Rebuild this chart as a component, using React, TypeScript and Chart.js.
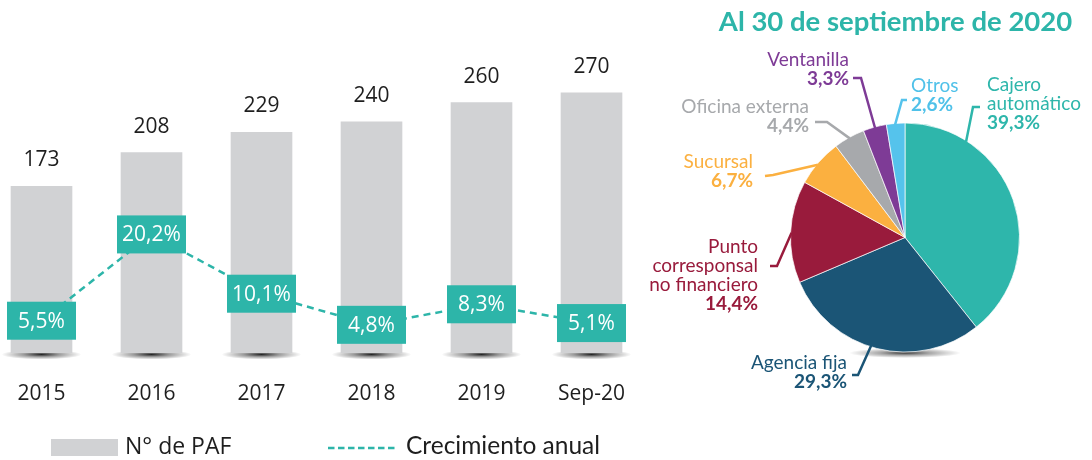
import React, { useEffect, useRef } from "react";
import { Chart, registerables } from "chart.js";

Chart.register(...registerables);

// ---------- DATA ----------
const categories = ["2015", "2016", "2017", "2018", "2019", "Sep-20"];
const pafValues = [173, 208, 229, 240, 260, 270];
const growthValues = [5.5, 20.2, 10.1, 4.8, 8.3, 5.1];

const pieTitle = "Al 30 de septiembre de 2020";
const pieNames = [
  ["Cajero", "automático"],
  ["Agencia fija"],
  ["Punto", "corresponsal", "no financiero"],
  ["Sucursal"],
  ["Oficina externa"],
  ["Ventanilla"],
  ["Otros"],
];
const pieValues = [39.3, 29.3, 14.4, 6.7, 4.4, 3.3, 2.6];

const legendBar = "N° de PAF";
const legendLine = "Crecimiento anual";

// ---------- STYLE ----------
const TEAL = "#2DB5A9";
const BAR_GRAY = "#D1D2D4";
const TEXT = "#1E1E1E";
const pieColors = ["#2EB6AB", "#1B5576", "#991B3C", "#FBB040", "#A7A9AC", "#7E3B96", "#55C3EC"];
const pieTextColors = ["#2EB6AB", "#1B5576", "#991B3C", "#FBB040", "#A7A9AC", "#7E3B96", "#4FC1E9"];

// label layout (pie-canvas coords) : anchor fraction within slice, elbow points, text anchor
const pieLayout = [
  { f: 0.23, pts: [[333, 107], [340, 107]], tx: 347, ty: 85, align: "left" },
  { f: 0.53, pts: [[218, 375], [212, 375]], tx: 207, ty: 363, align: "right" },
  { f: 0.49, pts: [[137, 266], [130, 266]], tx: 118, ty: 247, align: "right" },
  { f: 0.46, pts: [[133, 175], [125, 176]], tx: 113, ty: 162, align: "right" },
  { f: 0.5, pts: [[187, 122], [175, 122]], tx: 169, ty: 107, align: "right" },
  { f: 0.5, pts: [[221, 78], [213, 78]], tx: 209, ty: 60, align: "right" },
  { f: 0.47, pts: [[262, 100], [267, 100]], tx: 271, ty: 86, align: "left" },
];

const LABEL_FONT = "Lato";
const BAR_FONT = "'Open Sans'";

function fmtPct(v: number) {
  return v.toFixed(1).replace(".", ",") + "%";
}

function drawShadow(ctx: CanvasRenderingContext2D, cx: number, cy: number, rx: number, ry: number, alpha: number) {
  ctx.save();
  ctx.translate(cx, cy);
  ctx.scale(1, ry / rx);
  const g = ctx.createRadialGradient(0, 0, 0, 0, 0, rx);
  g.addColorStop(0, `rgba(0,0,0,${alpha})`);
  g.addColorStop(0.45, `rgba(0,0,0,${alpha * 0.45})`);
  g.addColorStop(1, "rgba(0,0,0,0)");
  ctx.fillStyle = g;
  ctx.beginPath();
  ctx.arc(0, 0, rx, 0, Math.PI * 2);
  ctx.fill();
  ctx.restore();
}

const barPlugin = {
  id: "barDecor",
  beforeDatasetsDraw(chart: any) {
    const ctx = chart.ctx;
    const meta = chart.getDatasetMeta(1);
    meta.data.forEach((bar: any) => {
      drawShadow(ctx, bar.x, bar.base + 1.5, 40, 5, 0.85);
    });
  },
  afterDatasetsDraw(chart: any) {
    const ctx = chart.ctx;
    const barMeta = chart.getDatasetMeta(1);
    ctx.save();
    ctx.font = `21px ${BAR_FONT}`;
    ctx.textAlign = "center";
    ctx.textBaseline = "middle";
    ctx.fillStyle = TEXT;
    barMeta.data.forEach((bar: any, i: number) => {
      ctx.fillText(String(pafValues[i]), bar.x, bar.y - 26);
    });
    const lineMeta = chart.getDatasetMeta(0);
    lineMeta.data.forEach((pt: any, i: number) => {
      ctx.fillStyle = TEAL;
      ctx.fillRect(pt.x - 34.5, pt.y - 19, 69, 38);
      ctx.fillStyle = "#FFFFFF";
      ctx.fillText(fmtPct(growthValues[i]), pt.x, pt.y + 1);
    });
    ctx.restore();
  },
  afterDraw(chart: any) {
    const ctx = chart.ctx;
    ctx.save();
    // legend (canvas offset -20)
    ctx.fillStyle = BAR_GRAY;
    ctx.fillRect(71, 439, 67, 17);
    ctx.fillStyle = TEXT;
    ctx.font = `23px ${BAR_FONT}`;
    ctx.textAlign = "left";
    ctx.textBaseline = "middle";
    ctx.fillText(legendBar, 145, 447);
    ctx.strokeStyle = TEAL;
    ctx.lineWidth = 2.5;
    ctx.setLineDash([6.5, 3.5]);
    ctx.beginPath();
    ctx.moveTo(348, 448);
    ctx.lineTo(417, 448);
    ctx.stroke();
    ctx.setLineDash([]);
    ctx.font = `24.5px ${LABEL_FONT}`;
    ctx.fillText(legendLine, 426, 446);
    ctx.restore();
  },
};

const piePlugin = {
  id: "pieDecor",
  beforeDatasetsDraw(chart: any) {
    const arc = chart.getDatasetMeta(0).data[0];
    if (!arc) return;
    drawShadow(chart.ctx, arc.x, arc.y + arc.outerRadius + 1, 56, 5, 0.75);
  },
  afterDatasetsDraw(chart: any) {
    const ctx = chart.ctx;
    const arcs = chart.getDatasetMeta(0).data;
    ctx.save();
    arcs.forEach((arc: any, i: number) => {
      const L = pieLayout[i];
      const a = arc.startAngle + L.f * (arc.endAngle - arc.startAngle);
      const r = arc.outerRadius - 1;
      const sx = arc.x + r * Math.cos(a);
      const sy = arc.y + r * Math.sin(a);
      ctx.strokeStyle = pieColors[i];
      ctx.lineWidth = 2.5;
      ctx.lineJoin = "miter";
      ctx.beginPath();
      ctx.moveTo(sx, sy);
      L.pts.forEach((p) => ctx.lineTo(p[0], p[1]));
      ctx.stroke();
      ctx.fillStyle = pieTextColors[i];
      ctx.textAlign = L.align as CanvasTextAlign;
      ctx.textBaseline = "middle";
      ctx.font = `19px ${LABEL_FONT}`;
      const lines = pieNames[i];
      lines.forEach((t, j) => ctx.fillText(t, L.tx, L.ty + j * 19));
      ctx.font = `bold 19px ${LABEL_FONT}`;
      ctx.fillText(fmtPct(pieValues[i]), L.tx, L.ty + lines.length * 19);
    });
    ctx.restore();
  },
  afterDraw(chart: any) {
    const ctx = chart.ctx;
    ctx.save();
    ctx.fillStyle = TEAL;
    ctx.font = `bold 27.5px ${LABEL_FONT}`;
    ctx.textAlign = "center";
    ctx.textBaseline = "middle";
    ctx.fillText(pieTitle, 255.5, 22);
    ctx.restore();
  },
};

export default function App() {
  const barRef = useRef<HTMLCanvasElement>(null);
  const pieRef = useRef<HTMLCanvasElement>(null);

  useEffect(() => {
    const bar = new Chart(barRef.current as HTMLCanvasElement, {
      type: "bar",
      data: {
        labels: categories,
        datasets: [
          {
            type: "line",
            label: legendLine,
            data: growthValues,
            yAxisID: "y2",
            borderColor: TEAL,
            borderWidth: 2.5,
            borderDash: [7, 5],
            pointRadius: 0,
            fill: false,
            tension: 0,
            order: 0,
          } as any,
          {
            type: "bar",
            label: legendBar,
            data: pafValues,
            yAxisID: "y",
            backgroundColor: BAR_GRAY,
            barThickness: 61,
            order: 1,
          },
        ],
      },
      options: {
        responsive: false,
        animation: false,
        devicePixelRatio: 1,
        layout: { padding: { left: 6.5, right: 13.5, top: 64, bottom: 25.8 } },
        plugins: { legend: { display: false }, tooltip: { enabled: false } },
        scales: {
          x: {
            grid: { display: false, drawTicks: false },
            border: { display: false },
            ticks: { font: { family: "Open Sans", size: 21 }, color: TEXT, padding: 28 },
          },
          y: { display: false, min: 0, max: 300 },
          y2: { display: false, min: 0, max: 49.23 },
        },
      },
      plugins: [barPlugin],
    });

    const pie = new Chart(pieRef.current as HTMLCanvasElement, {
      type: "pie",
      data: {
        labels: pieNames.map((l) => l.join(" ")),
        datasets: [
          {
            data: pieValues,
            backgroundColor: pieColors,
            borderColor: "rgba(255,255,255,0.7)",
            borderWidth: 1,
          },
        ],
      },
      options: {
        responsive: false,
        animation: false,
        devicePixelRatio: 1,
        layout: { padding: { left: 150, right: 72, top: 122.5, bottom: 107.5 } },
        plugins: { legend: { display: false }, tooltip: { enabled: false } },
      },
      plugins: [piePlugin],
    });

    return () => {
      bar.destroy();
      pie.destroy();
    };
  }, []);

  return (
    <div style={{ position: "absolute", left: 0, top: 0, width: 1092, height: 460, overflow: "hidden", background: "#fff" }}>
      <canvas ref={barRef} width={680} height={460} style={{ position: "absolute", left: -20, top: 0, width: 680, height: 460 }} />
      <canvas ref={pieRef} width={452} height={460} style={{ position: "absolute", left: 640, top: 0, width: 452, height: 460 }} />
    </div>
  );
}
